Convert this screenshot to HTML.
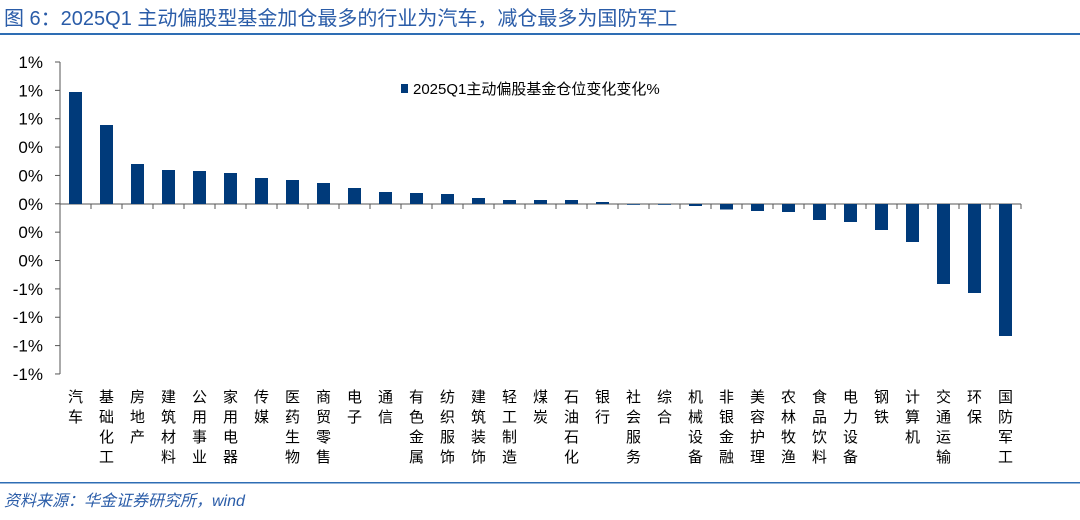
<!DOCTYPE html>
<html><head><meta charset="utf-8"><style>
body{margin:0;width:1080px;height:515px;background:#fff;overflow:hidden;font-family:"Liberation Sans","Noto Sans CJK SC",sans-serif;}
</style></head><body>
<svg width="1080" height="515" xmlns="http://www.w3.org/2000/svg" font-family="Liberation Sans, Noto Sans CJK SC, sans-serif">
<text x="4" y="25" font-size="20" fill="#2a5ca8">图 6：2025Q1 主动偏股型基金加仓最多的行业为汽车，减仓最多为国防军工</text>
<rect x="0" y="33" width="1080" height="2" fill="#2e6db4"/>
<rect x="0" y="482" width="1080" height="1.5" fill="#2e6db4"/>
<text x="4" y="506" font-size="16" font-style="italic" fill="#2a5ca8">资料来源：华金证券研究所，wind</text>
<g stroke="#555" stroke-width="1">
<line x1="60" y1="62" x2="60" y2="374"/>
<line x1="60" y1="204" x2="1021" y2="204"/>
</g>
<g id="yt" font-size="17" fill="#000" text-anchor="end"></g>
<g id="bars" fill="#003a7a"></g>
<g id="xl" font-size="15" fill="#000"></g>
<rect x="401" y="84" width="7" height="9" fill="#003a7a"/>
<text x="413" y="94" font-size="15" fill="#000">2025Q1主动偏股基金仓位变化变化%</text>
</svg>
<script>
var ns="http://www.w3.org/2000/svg";
function el(t,a,p,txt){var e=document.createElementNS(ns,t);for(var k in a)e.setAttribute(k,a[k]);if(txt)e.textContent=txt;document.getElementById(p).appendChild(e);return e;}
var yl=["1%","1%","1%","0%","0%","0%","0%","0%","-1%","-1%","-1%","-1%"];
for(var i=0;i<12;i++){var y=62+i*28.36;el("text",{x:43,y:y+6},"yt",yl[i]);el("line",{x1:55,y1:y,x2:60,y2:y,stroke:"#555"},"yt");}
var names=["汽车","基础化工","房地产","建筑材料","公用事业","家用电器","传媒","医药生物","商贸零售","电子","通信","有色金属","纺织服饰","建筑装饰","轻工制造","煤炭","石油石化","银行","社会服务","综合","机械设备","非银金融","美容护理","农林牧渔","食品饮料","电力设备","钢铁","计算机","交通运输","环保","国防军工"];
var tops=[92,125,164,170,171,173,178,180,183,188,192,193,194,198,200,200,200,202,204.7,204.7,206,209.5,211,212,220,222,230,242,284,293,336];
for(var i=0;i<31;i++){var cx=75.5+i*31;var t=tops[i];var y0=Math.min(t,204),h=Math.max(Math.abs(204-t),0.8);
el("rect",{x:cx-6.5,y:y0,width:13,height:h},"bars");
el("line",{x1:60+(i+1)*31,y1:204,x2:60+(i+1)*31,y2:209,stroke:"#555"},"bars");
var n=names[i];for(var j=0;j<n.length;j++){el("text",{x:cx,y:402+j*20,"text-anchor":"middle"},"xl",n[j]);}}
</script>
</body></html>
